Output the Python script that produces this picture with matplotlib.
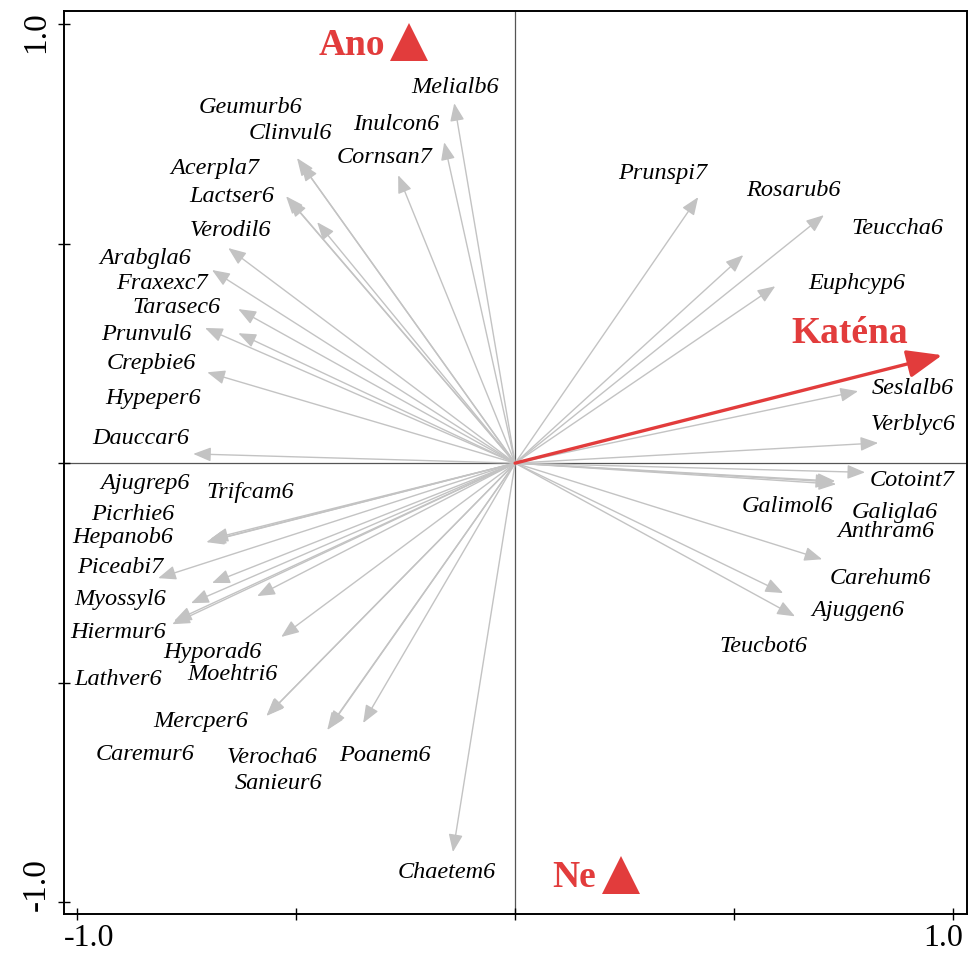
import matplotlib
matplotlib.use("Agg")
import matplotlib.pyplot as plt
from matplotlib.transforms import ScaledTranslation

# ---------------- data ----------------
species = ["Melialb6", "Inulcon6", "Cornsan7", "Geumurb6", "Clinvul6", "Acerpla7",
           "Lactser6", "Verodil6", "Arabgla6", "Fraxexc7", "Tarasec6", "Prunvul6",
           "Crepbie6", "Hypeper6", "Dauccar6",
           "Prunspi7", "Rosarub6", "Teuccha6", "Euphcyp6", "Seslalb6", "Verblyc6",
           "Cotoint7", "Galimol6", "Galigla6", "Anthram6", "Carehum6", "Ajuggen6",
           "Teucbot6",
           "Ajugrep6", "Trifcam6", "Hepanob6", "Picrhie6", "Piceabi7", "Myossyl6",
           "Hiermur6", "Lathver6", "Moehtri6", "Hyporad6", "Mercper6", "Caremur6",
           "Verocha6", "Sanieur6", "Poanem6", "Chaetem6"]

axis1 = [-0.139, -0.162, -0.267, -0.498, -0.489, -0.523,
         -0.516, -0.452, -0.655, -0.692, -0.632, -0.708,
         -0.632, -0.703, -0.735,
         0.418, 0.705, 0.521, 0.594, 0.783, 0.829,
         0.799, 0.726, 0.733, 0.731, 0.701, 0.639,
         0.612,
         -0.696, -0.701, -0.705, -0.692, -0.815, -0.740,
         -0.783, -0.779, -0.589, -0.534, -0.566, -0.568,
         -0.429, -0.425, -0.347, -0.142]

axis2 = [0.820, 0.731, 0.656, 0.695, 0.683, 0.608,
         0.601, 0.549, 0.490, 0.440, 0.351, 0.308,
         0.296, 0.207, 0.021,
         0.606, 0.565, 0.474, 0.403, 0.164, 0.046,
         -0.021, -0.043, -0.048, -0.041, -0.219, -0.349,
         -0.296,
         -0.173, -0.178, -0.180, -0.273, -0.262, -0.319,
         -0.367, -0.360, -0.303, -0.396, -0.574, -0.576,
         -0.608, -0.604, -0.592, -0.886]

env_name = "Katéna"
env_x = 0.975
env_y = 0.246

nominal_names = ["Ano", "Ne"]
nominal_x = [-0.242, 0.242]
nominal_y = [0.959, -0.938]

ticks = [-1.0, -0.5, 0.0, 0.5, 1.0]
tick_labels = ["-1.0", "", "", "", "1.0"]

# ---------------- layout (label placement) ----------------
label_pos = [(-0.137, 0.856), (-0.272, 0.772), (-0.299, 0.697), (-0.605, 0.811),
             (-0.514, 0.752), (-0.685, 0.672), (-0.646, 0.608), (-0.651, 0.531),
             (-0.845, 0.467), (-0.806, 0.410), (-0.774, 0.355), (-0.842, 0.292),
             (-0.831, 0.226), (-0.826, 0.148), (-0.854, 0.057),
             (0.336, 0.661), (0.635, 0.622), (0.874, 0.535), (0.779, 0.410),
             (0.909, 0.171), (0.909, 0.087), (0.906, -0.039), (0.623, -0.098),
             (0.868, -0.112), (0.847, -0.155), (0.833, -0.262), (0.783, -0.335),
             (0.568, -0.417),
             (-0.845, -0.046), (-0.605, -0.068), (-0.897, -0.169), (-0.872, -0.116),
             (-0.902, -0.237), (-0.902, -0.310), (-0.906, -0.385), (-0.906, -0.494),
             (-0.646, -0.481), (-0.692, -0.431), (-0.719, -0.588), (-0.845, -0.663),
             (-0.555, -0.670), (-0.541, -0.731), (-0.297, -0.665), (-0.155, -0.932)]
env_label_pos = (0.765, 0.296)
nominal_label_pos = [(-0.372, 0.952), (0.135, -0.945)]

RED = "#e23c3c"
GREY = "#c3c3c3"
SERIF = ["Liberation Serif", "DejaVu Serif"]

fig = plt.figure(figsize=(9.7, 9.6), dpi=100)
ax = fig.add_axes([0.066, 0.048, 0.931, 0.9405])
ax.set_xlim(-1.03, 1.032)
ax.set_ylim(-1.027, 1.03)

ax.axhline(0, color="#555555", lw=0.9, zorder=1)
ax.axvline(0, color="#555555", lw=0.9, zorder=1)

for x, y in zip(axis1, axis2):
    ax.annotate("", xy=(x, y), xytext=(0, 0),
                arrowprops=dict(arrowstyle="-|>,head_length=0.4,head_width=0.16",
                                color=GREY, lw=1.0, mutation_scale=27,
                                shrinkA=0, shrinkB=0), zorder=2)

for name, (lx, ly) in zip(species, label_pos):
    ax.text(lx, ly, name, ha="center", va="center", fontsize=17.5,
            style="italic", family=SERIF, color="black", zorder=4)

ax.annotate("", xy=(env_x, env_y), xytext=(0, 0),
            arrowprops=dict(arrowstyle="-|>,head_length=0.4,head_width=0.16",
                            color=RED, lw=2.4, mutation_scale=54,
                            shrinkA=0, shrinkB=0), zorder=3)
ax.text(env_label_pos[0], env_label_pos[1], env_name, ha="center", va="center",
        fontsize=27, fontweight="bold", family=SERIF, color=RED, zorder=4)

ax.plot(nominal_x, nominal_y, linestyle="none", marker="^", markersize=27,
        color=RED, markeredgewidth=0, zorder=4)
for name, (lx, ly) in zip(nominal_names, nominal_label_pos):
    ax.text(lx, ly, name, ha="center", va="center", fontsize=27,
            fontweight="bold", family=SERIF, color=RED, zorder=4)

ax.set_xticks(ticks)
ax.set_xticklabels(tick_labels, family=SERIF, fontsize=23)
ax.set_yticks(ticks)
ax.set_yticklabels(tick_labels, family=SERIF, fontsize=24, rotation=90, va="center")
ax.tick_params(direction="inout", length=8, width=1.0, color="black")
ax.tick_params(axis="x", pad=3)
ax.tick_params(axis="y", pad=5)
for s in ax.spines.values():
    s.set_linewidth(1.4)
    s.set_color("black")

# nudge end labels inward like the reference
xl = ax.get_xticklabels()
xl[0].set_transform(xl[0].get_transform() + ScaledTranslation(12 / 100, 0, fig.dpi_scale_trans))
xl[-1].set_transform(xl[-1].get_transform() + ScaledTranslation(-10 / 100, 0, fig.dpi_scale_trans))
yl = ax.get_yticklabels()
yl[0].set_transform(yl[0].get_transform() + ScaledTranslation(0, 18 / 100, fig.dpi_scale_trans))
yl[-1].set_transform(yl[-1].get_transform() + ScaledTranslation(0, -8 / 100, fig.dpi_scale_trans))

fig.savefig("out.png", dpi=100)
